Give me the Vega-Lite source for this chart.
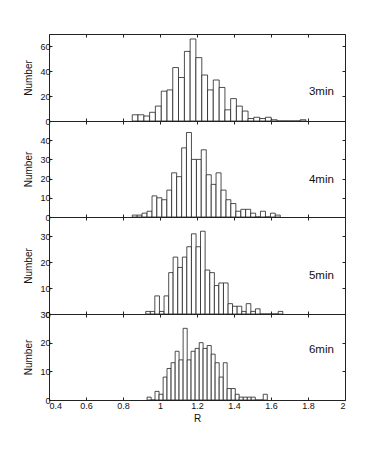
{
  "$schema": "https://vega.github.io/schema/vega-lite/v6.json",
  "padding": {"left": 22, "top": 33, "right": 5, "bottom": 5},
  "spacing": 0,
  "bounds": "flush",
  "config": {
    "font": "Liberation Sans",
    "view": {"stroke": "#222", "strokeWidth": 1},
    "axis": {"grid": false, "domain": false, "tickColor": "#222", "tickSize": -3, "labelFontSize": 9, "labelColor": "#111", "titleFontSize": 10, "titleFontWeight": "normal", "titleColor": "#111", "labelPadding": 2},
    "axisX": {"minExtent": 0, "maxExtent": 0},
    "axisY": {"minExtent": 12, "maxExtent": 12, "titlePadding": 4},
    "concat": {"spacing": 0}
  },
  "datasets": {
    "m3": [
      {"r0":0.850,"r1":0.881,"n":5},{"r0":0.881,"r1":0.913,"n":5},{"r0":0.913,"r1":0.944,"n":4},{"r0":0.944,"r1":0.975,"n":7},{"r0":0.975,"r1":1.007,"n":12},
      {"r0":1.007,"r1":1.038,"n":24},{"r0":1.038,"r1":1.069,"n":25},{"r0":1.069,"r1":1.100,"n":43},{"r0":1.100,"r1":1.132,"n":35},{"r0":1.132,"r1":1.163,"n":56},
      {"r0":1.163,"r1":1.194,"n":66},{"r0":1.194,"r1":1.226,"n":51},{"r0":1.226,"r1":1.257,"n":37},{"r0":1.257,"r1":1.288,"n":25},{"r0":1.288,"r1":1.320,"n":33},
      {"r0":1.320,"r1":1.351,"n":27},{"r0":1.351,"r1":1.382,"n":9},{"r0":1.382,"r1":1.413,"n":18},{"r0":1.413,"r1":1.445,"n":12},{"r0":1.445,"r1":1.476,"n":8},
      {"r0":1.476,"r1":1.507,"n":2},{"r0":1.507,"r1":1.539,"n":3},{"r0":1.539,"r1":1.570,"n":2},{"r0":1.570,"r1":1.601,"n":3},{"r0":1.601,"r1":1.633,"n":1},
      {"r0":1.633,"r1":1.664,"n":0},{"r0":1.664,"r1":1.695,"n":0},{"r0":1.695,"r1":1.726,"n":0},{"r0":1.726,"r1":1.758,"n":0},{"r0":1.758,"r1":1.789,"n":1}
    ],
    "m4": [
      {"r0":0.850,"r1":0.877,"n":1},{"r0":0.877,"r1":0.903,"n":1},{"r0":0.903,"r1":0.930,"n":2},{"r0":0.930,"r1":0.957,"n":3},{"r0":0.957,"r1":0.983,"n":11},
      {"r0":0.983,"r1":1.010,"n":10},{"r0":1.010,"r1":1.037,"n":9},{"r0":1.037,"r1":1.063,"n":14},{"r0":1.063,"r1":1.090,"n":23},{"r0":1.090,"r1":1.117,"n":21},
      {"r0":1.117,"r1":1.143,"n":36},{"r0":1.143,"r1":1.170,"n":44},{"r0":1.170,"r1":1.197,"n":30},{"r0":1.197,"r1":1.223,"n":30},{"r0":1.223,"r1":1.250,"n":35},
      {"r0":1.250,"r1":1.277,"n":22},{"r0":1.277,"r1":1.303,"n":17},{"r0":1.303,"r1":1.330,"n":23},{"r0":1.330,"r1":1.357,"n":14},{"r0":1.357,"r1":1.383,"n":9},
      {"r0":1.383,"r1":1.410,"n":7},{"r0":1.410,"r1":1.437,"n":3},{"r0":1.437,"r1":1.463,"n":4},{"r0":1.463,"r1":1.490,"n":4},{"r0":1.490,"r1":1.517,"n":2},
      {"r0":1.517,"r1":1.543,"n":0},{"r0":1.543,"r1":1.570,"n":3},{"r0":1.570,"r1":1.597,"n":0},{"r0":1.597,"r1":1.623,"n":2},{"r0":1.623,"r1":1.650,"n":1}
    ],
    "m5": [
      {"r0":0.923,"r1":0.948,"n":1},{"r0":0.948,"r1":0.972,"n":1},{"r0":0.972,"r1":0.997,"n":7},{"r0":0.997,"r1":1.022,"n":1},{"r0":1.022,"r1":1.047,"n":7},
      {"r0":1.047,"r1":1.071,"n":16},{"r0":1.071,"r1":1.096,"n":22},{"r0":1.096,"r1":1.121,"n":18},{"r0":1.121,"r1":1.145,"n":22},{"r0":1.145,"r1":1.170,"n":26},
      {"r0":1.170,"r1":1.195,"n":31},{"r0":1.195,"r1":1.219,"n":26},{"r0":1.219,"r1":1.244,"n":32},{"r0":1.244,"r1":1.269,"n":17},{"r0":1.269,"r1":1.294,"n":16},
      {"r0":1.294,"r1":1.318,"n":11},{"r0":1.318,"r1":1.343,"n":12},{"r0":1.343,"r1":1.368,"n":12},{"r0":1.368,"r1":1.392,"n":4},{"r0":1.392,"r1":1.417,"n":3},
      {"r0":1.417,"r1":1.442,"n":3},{"r0":1.442,"r1":1.466,"n":1},{"r0":1.466,"r1":1.491,"n":4},{"r0":1.491,"r1":1.516,"n":1},{"r0":1.516,"r1":1.541,"n":2},
      {"r0":1.541,"r1":1.565,"n":0},{"r0":1.565,"r1":1.590,"n":0},{"r0":1.590,"r1":1.615,"n":0},{"r0":1.615,"r1":1.639,"n":0},{"r0":1.639,"r1":1.664,"n":1}
    ],
    "m6": [
      {"r0":0.930,"r1":0.952,"n":1},{"r0":0.952,"r1":0.973,"n":0},{"r0":0.973,"r1":0.995,"n":3},{"r0":0.995,"r1":1.017,"n":2},{"r0":1.017,"r1":1.038,"n":8},
      {"r0":1.038,"r1":1.060,"n":11},{"r0":1.060,"r1":1.082,"n":13},{"r0":1.082,"r1":1.103,"n":17},{"r0":1.103,"r1":1.125,"n":14},{"r0":1.125,"r1":1.147,"n":25},
      {"r0":1.147,"r1":1.168,"n":14},{"r0":1.168,"r1":1.190,"n":17},{"r0":1.190,"r1":1.212,"n":18},{"r0":1.212,"r1":1.233,"n":20},{"r0":1.233,"r1":1.255,"n":18},
      {"r0":1.255,"r1":1.277,"n":19},{"r0":1.277,"r1":1.298,"n":16},{"r0":1.298,"r1":1.320,"n":13},{"r0":1.320,"r1":1.342,"n":8},{"r0":1.342,"r1":1.363,"n":13},
      {"r0":1.363,"r1":1.385,"n":4},{"r0":1.385,"r1":1.407,"n":4},{"r0":1.407,"r1":1.428,"n":2},{"r0":1.428,"r1":1.450,"n":1},{"r0":1.450,"r1":1.472,"n":1},
      {"r0":1.472,"r1":1.493,"n":1},{"r0":1.493,"r1":1.515,"n":1},{"r0":1.515,"r1":1.537,"n":0},{"r0":1.537,"r1":1.558,"n":0},{"r0":1.558,"r1":1.580,"n":2}
    ]
  },
  "vconcat": [
    {
      "width": 296, "height": 87,
      "layer": [
        {"data": {"name": "m3"}, "mark": {"type": "rect", "fill": "white", "stroke": "#222", "strokeWidth": 0.8},
         "encoding": {
           "x": {"field": "r0", "type": "quantitative", "scale": {"domain": [0.4, 2], "nice": false, "zero": false}, "axis": {"orient": "bottom", "labels": false, "title": null, "values": [0.4,0.6,0.8,1,1.2,1.4,1.6,1.8,2]}},
           "x2": {"field": "r1"},
           "y": {"field": "n", "type": "quantitative", "scale": {"domain": [0, 70], "nice": false}, "axis": {"orient": "left", "title": "Number", "values": [0,20,40,60]}},
           "y2": {"datum": 0}}},
        {"data": {"values": [{"label": "3min"}]}, "mark": {"type": "text", "align": "left", "baseline": "middle", "fontSize": 11.5, "color": "#111"},
         "encoding": {
           "x": {"datum": 1.805, "type": "quantitative", "scale": {"domain": [0.4, 2], "nice": false, "zero": false}, "axis": {"orient": "top", "labels": false, "title": null, "values": [0.4,0.6,0.8,1,1.2,1.4,1.6,1.8,2]}},
           "y": {"datum": 23.6, "type": "quantitative", "scale": {"domain": [0, 70], "nice": false}, "axis": {"orient": "right", "labels": false, "title": null, "values": [0,20,40,60], "minExtent": 0, "maxExtent": 0}},
           "text": {"field": "label"}}}
      ],
      "resolve": {"axis": {"x": "independent", "y": "independent"}}
    },
    {
      "width": 296, "height": 96,
      "layer": [
        {"data": {"name": "m4"}, "mark": {"type": "rect", "fill": "white", "stroke": "#222", "strokeWidth": 0.8},
         "encoding": {
           "x": {"field": "r0", "type": "quantitative", "scale": {"domain": [0.4, 2], "nice": false, "zero": false}, "axis": {"orient": "bottom", "labels": false, "title": null, "values": [0.4,0.6,0.8,1,1.2,1.4,1.6,1.8,2]}},
           "x2": {"field": "r1"},
           "y": {"field": "n", "type": "quantitative", "scale": {"domain": [0, 50], "nice": false}, "axis": {"orient": "left", "title": "Number", "values": [0,10,20,30,40]}},
           "y2": {"datum": 0}}},
        {"data": {"values": [{"label": "4min"}]}, "mark": {"type": "text", "align": "left", "baseline": "middle", "fontSize": 11.5, "color": "#111"},
         "encoding": {
           "x": {"datum": 1.805, "type": "quantitative", "scale": {"domain": [0.4, 2], "nice": false, "zero": false}, "axis": {"orient": "top", "labels": false, "title": null, "values": [0.4,0.6,0.8,1,1.2,1.4,1.6,1.8,2]}},
           "y": {"datum": 19.3, "type": "quantitative", "scale": {"domain": [0, 50], "nice": false}, "axis": {"orient": "right", "labels": false, "title": null, "values": [0,10,20,30,40], "minExtent": 0, "maxExtent": 0}},
           "text": {"field": "label"}}}
      ],
      "resolve": {"axis": {"x": "independent", "y": "independent"}}
    },
    {
      "width": 296, "height": 97,
      "layer": [
        {"data": {"name": "m5"}, "mark": {"type": "rect", "fill": "white", "stroke": "#222", "strokeWidth": 0.8},
         "encoding": {
           "x": {"field": "r0", "type": "quantitative", "scale": {"domain": [0.4, 2], "nice": false, "zero": false}, "axis": {"orient": "bottom", "labels": false, "title": null, "values": [0.4,0.6,0.8,1,1.2,1.4,1.6,1.8,2]}},
           "x2": {"field": "r1"},
           "y": {"field": "n", "type": "quantitative", "scale": {"domain": [0, 37.5], "nice": false}, "axis": {"orient": "left", "title": "Number", "values": [0,10,20,30]}},
           "y2": {"datum": 0}}},
        {"data": {"values": [{"label": "5min"}]}, "mark": {"type": "text", "align": "left", "baseline": "middle", "fontSize": 11.5, "color": "#111"},
         "encoding": {
           "x": {"datum": 1.805, "type": "quantitative", "scale": {"domain": [0.4, 2], "nice": false, "zero": false}, "axis": {"orient": "top", "labels": false, "title": null, "values": [0.4,0.6,0.8,1,1.2,1.4,1.6,1.8,2]}},
           "y": {"datum": 14.6, "type": "quantitative", "scale": {"domain": [0, 37.5], "nice": false}, "axis": {"orient": "right", "labels": false, "title": null, "values": [0,10,20,30], "minExtent": 0, "maxExtent": 0}},
           "text": {"field": "label"}}}
      ],
      "resolve": {"axis": {"x": "independent", "y": "independent"}}
    },
    {
      "width": 296, "height": 86,
      "layer": [
        {"data": {"name": "m6"}, "mark": {"type": "rect", "fill": "white", "stroke": "#222", "strokeWidth": 0.8},
         "encoding": {
           "x": {"field": "r0", "type": "quantitative", "scale": {"domain": [0.4, 2], "nice": false, "zero": false}, "axis": {"orient": "bottom", "title": "R", "format": "~g", "labelPadding": 4, "titlePadding": 1, "minExtent": 12, "maxExtent": 12, "values": [0.4,0.6,0.8,1,1.2,1.4,1.6,1.8,2]}},
           "x2": {"field": "r1"},
           "y": {"field": "n", "type": "quantitative", "scale": {"domain": [0, 30], "nice": false}, "axis": {"orient": "left", "title": "Number", "values": [0,10,20,30]}},
           "y2": {"datum": 0}}},
        {"data": {"values": [{"label": "6min"}]}, "mark": {"type": "text", "align": "left", "baseline": "middle", "fontSize": 11.5, "color": "#111"},
         "encoding": {
           "x": {"datum": 1.805, "type": "quantitative", "scale": {"domain": [0.4, 2], "nice": false, "zero": false}, "axis": {"orient": "top", "labels": false, "title": null, "values": [0.4,0.6,0.8,1,1.2,1.4,1.6,1.8,2]}},
           "y": {"datum": 17.4, "type": "quantitative", "scale": {"domain": [0, 30], "nice": false}, "axis": {"orient": "right", "labels": false, "title": null, "values": [0,10,20,30], "minExtent": 0, "maxExtent": 0}},
           "text": {"field": "label"}}}
      ],
      "resolve": {"axis": {"x": "independent", "y": "independent"}}
    }
  ]
}
